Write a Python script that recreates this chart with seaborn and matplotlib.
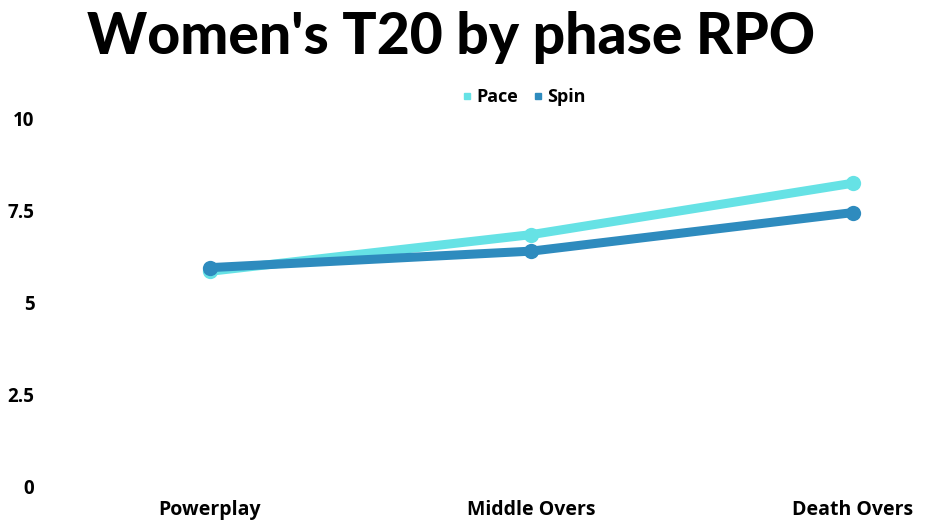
import pandas as pd
import matplotlib.pyplot as plt
import seaborn as sns
from matplotlib.lines import Line2D

# Data
phases = ['Powerplay', 'Middle Overs', 'Death Overs']
pace_rpo = [5.85, 6.85, 8.25]
spin_rpo = [5.95, 6.4, 7.45]
yticks = [0, 2.5, 5, 7.5, 10]
ytick_labels = ['0', '2.5', '5', '7.5', '10']

df = pd.DataFrame({
    'Phase': phases * 2,
    'RPO': pace_rpo + spin_rpo,
    'Type': ['Pace'] * 3 + ['Spin'] * 3,
})

colors = {'Pace': '#66E2E5', 'Spin': '#2E8BBE'}

sns.set_style('white')
plt.rcParams['font.family'] = ['Open Sans', 'DejaVu Sans']
plt.rcParams['text.color'] = 'black'
plt.rcParams['xtick.color'] = 'black'
plt.rcParams['ytick.color'] = 'black'

fig = plt.figure(figsize=(9.33, 5.2), dpi=100)
ax = fig.add_axes([40 / 933, 34 / 520, 890 / 933, 367 / 520])

sns.lineplot(data=df, x='Phase', y='RPO', hue='Type', hue_order=['Pace', 'Spin'],
             palette=colors, marker='o', markersize=11, markeredgewidth=0,
             linewidth=6.5, legend=False, ax=ax)

ax.set_xlim(-0.529, 2.24)
ax.set_ylim(0, 10)
ax.set_yticks(yticks)
ax.set_yticklabels(ytick_labels)
ax.set_xlabel('')
ax.set_ylabel('')
ax.tick_params(axis='x', length=0, labelsize=14, pad=10)
ax.tick_params(axis='y', length=0, labelsize=13.5, pad=4)
for lbl in ax.get_xticklabels() + ax.get_yticklabels():
    lbl.set_fontweight('bold')
sns.despine(ax=ax, left=True, bottom=True)

handles = [Line2D([], [], marker='s', linestyle='', markersize=4,
                  color=colors[k], label=k) for k in ['Pace', 'Spin']]
fig.legend(handles=handles, loc='center', bbox_to_anchor=(522 / 933, 1 - 97 / 520),
           ncol=2, frameon=False, handletextpad=0.0, columnspacing=0.6,
           handlelength=1.0, prop={'weight': 'bold', 'size': 13})

fig.text(451 / 933, 1 - 38 / 520, "Women's T20 by phase RPO", ha='center', va='center',
         fontsize=41, fontweight='black', family=['Lato', 'DejaVu Sans'])

fig.savefig('out.png', dpi=100)
